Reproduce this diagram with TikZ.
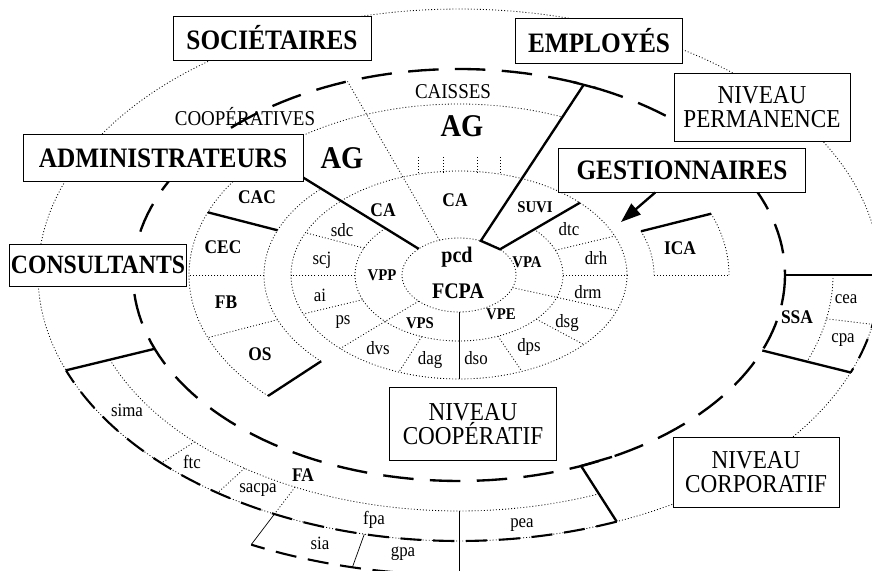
\documentclass[tikz,border=0pt]{standalone}
\usepackage{fontspec}
\setmainfont{Liberation Serif}
\newfontfamily\condfont[FakeStretch=0.9]{Liberation Serif}
\usetikzlibrary{arrows.meta,calc}

% one arc of the ellipses round the centre (459,275)
\newcommand{\ringarc}[5][]{%
  \draw[#1] plot[domain=#4:#5, samples=180] ({459+#2*cos(\x)},{275+#3*sin(\x)});}

\begin{document}
\begin{tikzpicture}[
  x=0.03cm, y=-0.03cm,
  bigbox/.style={draw, line width=0.8pt, fill=white, inner sep=0pt,
    font=\condfont\bfseries\fontsize{24}{24}\selectfont},
  nivbox/.style={draw, line width=0.8pt, fill=white, inner sep=0pt, align=center,
    font=\condfont\fontsize{22}{20}\selectfont},
  ringline/.style={line width=0.7pt, dash pattern=on 0.8pt off 1.8pt},
  levline/.style={line width=2pt, dash pattern=on 26pt off 14pt},
  bandline/.style={line width=1.8pt, dash pattern=on 18pt off 10pt},
  cutline/.style={line width=2pt},
  thinline/.style={line width=0.6pt},
  lab/.style={font=\condfont\fontsize{16}{16}\selectfont, inner sep=0pt},
  blab/.style={font=\condfont\bfseries\fontsize{16.5}{16}\selectfont, inner sep=0pt},
  vlab/.style={font=\condfont\bfseries\fontsize{14}{14}\selectfont, inner sep=0pt},
  toplab/.style={font=\condfont\fontsize{18}{18}\selectfont, inner sep=0pt},
  aglab/.style={font=\condfont\bfseries\fontsize{27}{27}\selectfont, inner sep=0pt},
  corelab/.style={font=\condfont\bfseries\fontsize{19}{19}\selectfont, inner sep=0pt},
]
\useasboundingbox (0,0) rectangle (872,571);
\clip (0,0) rectangle (872,571);

\coordinate (c) at (459,275);

% =================== inner rings ===================
\ringarc[ringline]{57}{37}{0}{360}
\ringarc[ringline]{104}{66}{-44}{225}
\ringarc[ringline]{168}{104}{0}{360}
\foreach \t in {135,20}
  \draw[ringline] ($(c)+(\t:57 and 37)$) -- ($(c)+(\t:168 and 104)$);
\draw[thinline] ($(c)+(90:57 and 37)$) -- ($(c)+(90:168 and 104)$);
\foreach \t in {204,180,158,111,68,42,0,-22}
  \draw[ringline] ($(c)+(\t:104 and 66)$) -- ($(c)+(\t:168 and 104)$);
\draw[ringline] ($(c)+(-110:57 and 37)$) -- ($(c)+(-110:326 and 206)$);
\foreach \xx in {418,443,477,500}
  \draw[ringline] (\xx,157) -- (\xx,175);

% =================== blocks (CAC ... OS, ICA) ===================
\ringarc[ringline]{195}{122}{135}{225}
\ringarc[ringline]{195}{122}{-21}{0}
\ringarc[ringline]{270}{171}{135}{292.5}
\ringarc[ringline]{270}{171}{-21}{0}
\foreach \t in {180,158.5,0}
  \draw[ringline] ($(c)+(\t:195 and 122)$) -- ($(c)+(\t:270 and 171)$);
\foreach \t in {201.5,135,-21}
  \draw[cutline] ($(c)+(\t:195 and 122)$) -- ($(c)+(\t:270 and 171)$);

% =================== cooperative level ===================
\ringarc[levline]{326}{206}{0}{360}

% =================== corporate bands ===================
\ringarc[ringline]{374}{236}{68}{159}
\ringarc[ringline]{374}{236}{0}{21.5}
\ringarc[ringline]{421}{266}{0}{360}
\ringarc[bandline]{421}{266}{68}{159}
\ringarc[bandline]{421}{266}{0}{21.5}
\ringarc[bandline]{474}{300}{90}{116}
\foreach \t in {135,125,116}
  \draw[ringline] ($(c)+(\t:374 and 236)$) -- ($(c)+(\t:421 and 266)$);
\foreach \t in {116,103}
  \draw[thinline] ($(c)+(\t:421 and 266)$) -- ($(c)+(\t:474 and 300)$);
\draw[thinline] ($(c)+(90:374 and 236)$) -- ($(c)+(90:474 and 300)$);
\draw[ringline] ($(c)+(10.7:374 and 236)$) -- ($(c)+(10.7:421 and 266)$);

% brackets
\draw[cutline] ($(c)+(159:326 and 206)$) -- ($(c)+(159:421 and 266)$);
\draw[cutline] ($(c)+(62:326 and 206)$) -- ($(c)+(68:326 and 206)$) -- ($(c)+(68:421 and 266)$);
\foreach \t in {0,21.5}
  \draw[cutline] ($(c)+(\t:326 and 206)$) -- ($(c)+(\t:421 and 266)$);
\draw[cutline] ($(c)+(-69.5:326 and 206)$) -- ($(c)+(-65:326 and 206)$);
\draw[cutline] ($(c)+(-67.5:326 and 206)$) -- ($(c)+(-67.5:57 and 37)$)
  -- ($(c)+(-44:57 and 37)$) -- ($(c)+(-44:168 and 104)$);

% =================== boxes ===================
\node[bigbox, minimum width=5.94cm, minimum height=1.32cm] (soc) at (272,38) {SOCIÉTAIRES};
\node[bigbox, minimum width=5.01cm, minimum height=1.35cm] (emp) at (599,41) {EMPLOYÉS};
\node[nivbox, minimum width=5.28cm, minimum height=2.04cm] (perm) at (762,107) {NIVEAU\\PERMANENCE};
\node[bigbox, minimum width=7.41cm, minimum height=1.32cm] (gest) at (682,170) {GESTIONNAIRES};
\node[bigbox, minimum width=8.4cm, minimum height=1.41cm] (admin) at (163,158) {ADMINISTRATEURS};
\node[bigbox, minimum width=5.31cm, minimum height=1.26cm, font=\condfont\bfseries\fontsize{22.5}{22}\selectfont] (cons) at (98,265) {CONSULTANTS};
\node[nivbox, minimum width=5.01cm, minimum height=2.19cm] (coop) at (473,424) {NIVEAU\\COOPÉRATIF};
\node[nivbox, minimum width=4.98cm, minimum height=2.1cm] (corp) at (756,472) {NIVEAU\\CORPORATIF};

% connectors
\coordinate (pcdnw) at ($(c)+(225:57 and 37)$);
\coordinate (dtctip) at (621,222);
\draw[cutline] (admin.-8) -- (pcdnw);
\draw[cutline, -{Triangle[length=17pt, width=12pt]}] (gest.220) -- (dtctip);

% =================== labels ===================
\node[toplab] (coopv) at (245,117) {COOPÉRATIVES};
\node[toplab] (caiss) at (453,92) {CAISSES};
\node[aglab] (agt) at (462,126) {AG};
\node[aglab] (agl) at (342,158) {AG};
\node[blab] (cat) at (455,200) {CA};
\node[blab] (cal) at (383,210) {CA};
\node[blab] (cac) at (257,197) {CAC};
\node[blab] (cec) at (223,247) {CEC};
\node[blab] (fb) at (226,302) {FB};
\node[blab] (os) at (260,354) {OS};
\node[blab] (ica) at (680,248) {ICA};
\node[blab] (ssa) at (797,317) {SSA};
\node[blab] (fa) at (303,475) {FA};
\node[corelab] (pcd) at (457,257) {pcd};
\node[corelab] (fcpa) at (458,291) {FCPA};
\node[vlab] (vpp) at (382,275) {VPP};
\node[vlab] (vpa) at (527,262) {VPA};
\node[vlab] (vps) at (420,323) {VPS};
\node[vlab] (vpe) at (501,314) {VPE};
\node[vlab] (suvi) at (535,207) {SUVI};
\node[lab] (sdc) at (342,230) {sdc};
\node[lab] (scj) at (322,260) {scj};
\node[lab] (ai) at (320,295) {ai};
\node[lab] (ps) at (343,322) {ps};
\node[lab] (dvs) at (378,348) {dvs};
\node[lab] (dag) at (430,360) {dag};
\node[lab] (dso) at (476,358) {dso};
\node[lab] (dps) at (529,347) {dps};
\node[lab] (dsg) at (567,323) {dsg};
\node[lab] (drm) at (588,292) {drm};
\node[lab] (drh) at (596,258) {drh};
\node[lab] (dtc) at (569,229) {dtc};
\node[lab] (cea) at (846,299) {cea};
\node[lab] (cpa) at (843,340) {cpa};
\node[lab] (sima) at (127,410) {sima};
\node[lab] (ftc) at (192,462) {ftc};
\node[lab] (sacpa) at (258,490) {sacpa};
\node[lab] (fpa) at (374,520) {fpa};
\node[lab] (sia) at (320,543) {sia};
\node[lab] (gpa) at (403,554) {gpa};
\node[lab] (pea) at (522,525) {pea};

\end{tikzpicture}
\end{document}
